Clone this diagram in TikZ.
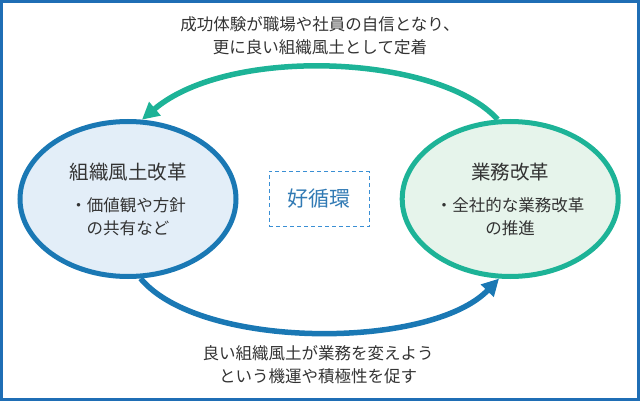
\documentclass[tikz,border=0pt]{standalone}
\usepackage{fontspec}
\setmainfont{Noto Sans CJK JP}
\usetikzlibrary{positioning, arrows.meta, shapes.geometric, calc}
\usepackage{xcolor}
\definecolor{frameblue}{HTML}{1F6EB5}
\definecolor{orgblue}{HTML}{1A78B4}
\definecolor{orgfill}{HTML}{E3EEF8}
\definecolor{taskgreen}{HTML}{1DB397}
\definecolor{taskfill}{HTML}{E6F4EB}
\definecolor{cycleblue}{HTML}{3A8FD4}
\definecolor{textgray}{HTML}{333333}

\begin{document}
\begin{tikzpicture}[
    x=1pt, y=-1pt,
    bubble/.style={draw, ellipse, line width=5pt, minimum width=216pt, minimum height=155pt, inner sep=0pt},
    title/.style={font=\fontsize{19.5}{24}\selectfont, text=textgray},
    note/.style={font=\fontsize{16.5}{23}\selectfont, text=textgray, align=center},
    cyclebox/.style={draw=cycleblue, dashed, dash pattern=on 4pt off 3pt, line width=1.2pt, minimum width=100pt, minimum height=55pt, text=cycleblue!85!black, font=\fontsize{21}{24}\selectfont},
    arr/.style={line width=5.5pt, -{Triangle[length=17pt, width=17pt]}}
]
    \useasboundingbox (0,0) rectangle (640,401);
    \draw[frameblue, line width=3pt] (1.5,1.5) rectangle (638.5,399.5);

    \node[bubble, draw=orgblue, fill=orgfill] (org) at (128,199) {};
    \node[cyclebox] (cycle) [right=30pt of org] {好循環};
    \node[bubble, draw=taskgreen, fill=taskfill] (task) [right=30pt of cycle] {};

    \node[title] (orgTitle) at ($(org.center)+(0,-27)$) {組織風土改革};
    \node[note] (orgNote) at ($(org.center)+(0,17.5)$) {・価値観や方針\\の共有など};
    \node[title] (taskTitle) at ($(task.center)+(0,-27)$) {業務改革};
    \node[note] (taskNote) at ($(task.center)+(0,17.5)$) {・全社的な業務改革\\の推進};

    \node[note] (topLabel) at (320,36) {成功体験が職場や社員の自信となり、\\更に良い組織風土として定着};
    \node[note] (bottomLabel) at (318,365) {良い組織風土が業務を変えよう\\という機運や積極性を促す};

    \draw[arr, taskgreen] (task.99.5) .. controls (440,55) and (230,45) .. (org.80);
    \draw[arr, orgblue] (org.279) .. controls (200,350) and (430,350) .. (task.262);
\end{tikzpicture}
\end{document}
